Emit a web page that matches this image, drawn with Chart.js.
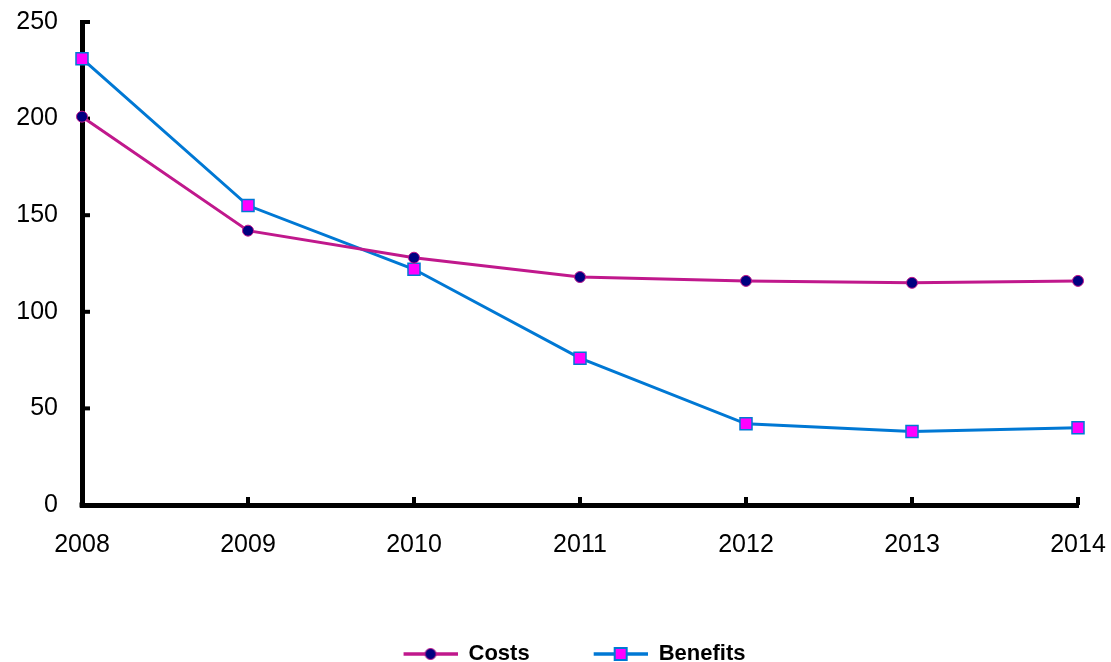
<!DOCTYPE html>
<html>
<head>
<meta charset="utf-8">
<script src="https://cdn.jsdelivr.net/npm/chart.js@4.4.1/dist/chart.umd.min.js"></script>
<style>
  html, body { margin: 0; padding: 0; background: #fff; }
  #wrap { width: 1111px; height: 662px; }
</style>
</head>
<body>
<div id="wrap"><canvas id="chart" width="1111" height="662"></canvas></div>
<script>
// Costs vs benefits, 2008-2014
const years = ['2008', '2009', '2010', '2011', '2012', '2013', '2014'];
const costs = [201, 142, 128, 118, 116, 115, 116];
const benefits = [231, 155, 122, 76, 42, 38, 40];
const yTicks = [0, 50, 100, 150, 200, 250];

const COST_LINE = '#c0188c';
const COST_MARK = '#000080';
const BEN_LINE = '#0078d4';
const BEN_MARK = '#ff00ff';
const FONT = '"Liberation Sans", Arial, sans-serif';

// legend swatches: line with its marker, left part left blank for spacing
function swatch(lineColor, drawMark) {
  const c = document.createElement('canvas');
  c.width = 117; c.height = 20;
  const ctx = c.getContext('2d');
  ctx.strokeStyle = lineColor;
  ctx.lineWidth = 3.5;
  ctx.beginPath();
  ctx.moveTo(63, 10);
  ctx.lineTo(117, 10);
  ctx.stroke();
  drawMark(ctx, 90, 10);
  return c;
}

const costSwatch = swatch(COST_LINE, (ctx, x, y) => {
  ctx.fillStyle = COST_MARK;
  ctx.strokeStyle = COST_LINE;
  ctx.lineWidth = 1;
  ctx.beginPath();
  ctx.arc(x, y, 5.5, 0, Math.PI * 2);
  ctx.fill();
  ctx.stroke();
});

const benSwatch = swatch(BEN_LINE, (ctx, x, y) => {
  ctx.fillStyle = BEN_MARK;
  ctx.strokeStyle = BEN_LINE;
  ctx.lineWidth = 2;
  ctx.fillRect(x - 6, y - 6, 12, 12);
  ctx.strokeRect(x - 6, y - 6, 12, 12);
});

// short tick marks pointing into the plot, like the original
const innerTicks = {
  id: 'innerTicks',
  beforeDatasetsDraw(chart) {
    const { ctx, chartArea, scales: { x, y } } = chart;
    ctx.save();
    ctx.fillStyle = '#000';
    yTicks.forEach(v => {
      const py = y.getPixelForValue(v);
      ctx.fillRect(chartArea.left, py - 2, 8, 4);
    });
    years.forEach((_, i) => {
      const px = x.getPixelForValue(i);
      ctx.fillRect(px - 2, chartArea.bottom - 8, 4, 8);
    });
    // close the corner of the two axes
    ctx.fillRect(chartArea.left - 2.5, chartArea.bottom - 2.5, 5, 5);
    ctx.restore();
  }
};

new Chart(document.getElementById('chart'), {
  type: 'line',
  data: {
    labels: years,
    datasets: [
      {
        label: 'Costs',
        data: costs,
        borderColor: COST_LINE,
        borderWidth: 3,
        pointStyle: 'circle',
        pointRadius: 5.5,
        pointBackgroundColor: COST_MARK,
        pointBorderColor: COST_LINE,
        pointBorderWidth: 1,
        tension: 0,
        clip: false
      },
      {
        label: 'Benefits',
        data: benefits,
        borderColor: BEN_LINE,
        borderWidth: 3,
        pointStyle: 'rect',
        pointRadius: 8.5,
        pointBackgroundColor: BEN_MARK,
        pointBorderColor: BEN_LINE,
        pointBorderWidth: 1.5,
        tension: 0,
        clip: false
      }
    ]
  },
  options: {
    responsive: false,
    animation: false,
    layout: { padding: { left: 8, right: 33, top: 22, bottom: -13 } },
    plugins: {
      tooltip: { enabled: false },
      legend: {
        position: 'bottom',
        labels: {
          usePointStyle: true,
          pointStyleWidth: 117,
          padding: 1,
          color: '#000',
          font: { family: FONT, size: 22, weight: 'bold' },
          generateLabels: () => [
            { text: 'Costs', pointStyle: costSwatch, datasetIndex: 0, fontColor: '#000' },
            { text: 'Benefits', pointStyle: benSwatch, datasetIndex: 1, fontColor: '#000' }
          ]
        }
      }
    },
    scales: {
      x: {
        offset: false,
        grid: { display: false, drawTicks: false },
        border: { display: true, color: '#000', width: 5 },
        ticks: {
          color: '#000',
          padding: 25,
          maxRotation: 0,
          font: { family: FONT, size: 25 }
        },
        afterFit(scale) {
          scale.height = 137;
          scale.paddingLeft = 0;
          scale.paddingRight = 0;
        }
      },
      y: {
        min: 0,
        max: 250,
        grid: { display: false, drawTicks: false },
        border: { display: true, color: '#000', width: 5 },
        ticks: {
          color: '#000',
          padding: 24,
          font: { family: FONT, size: 25 }
        },
        afterBuildTicks(scale) {
          scale.ticks = yTicks.map(v => ({ value: v }));
        },
        afterFit(scale) {
          scale.width = 74;
          scale.paddingTop = 0;
          scale.paddingBottom = 0;
        }
      }
    }
  },
  plugins: [innerTicks]
});
</script>
</body>
</html>
